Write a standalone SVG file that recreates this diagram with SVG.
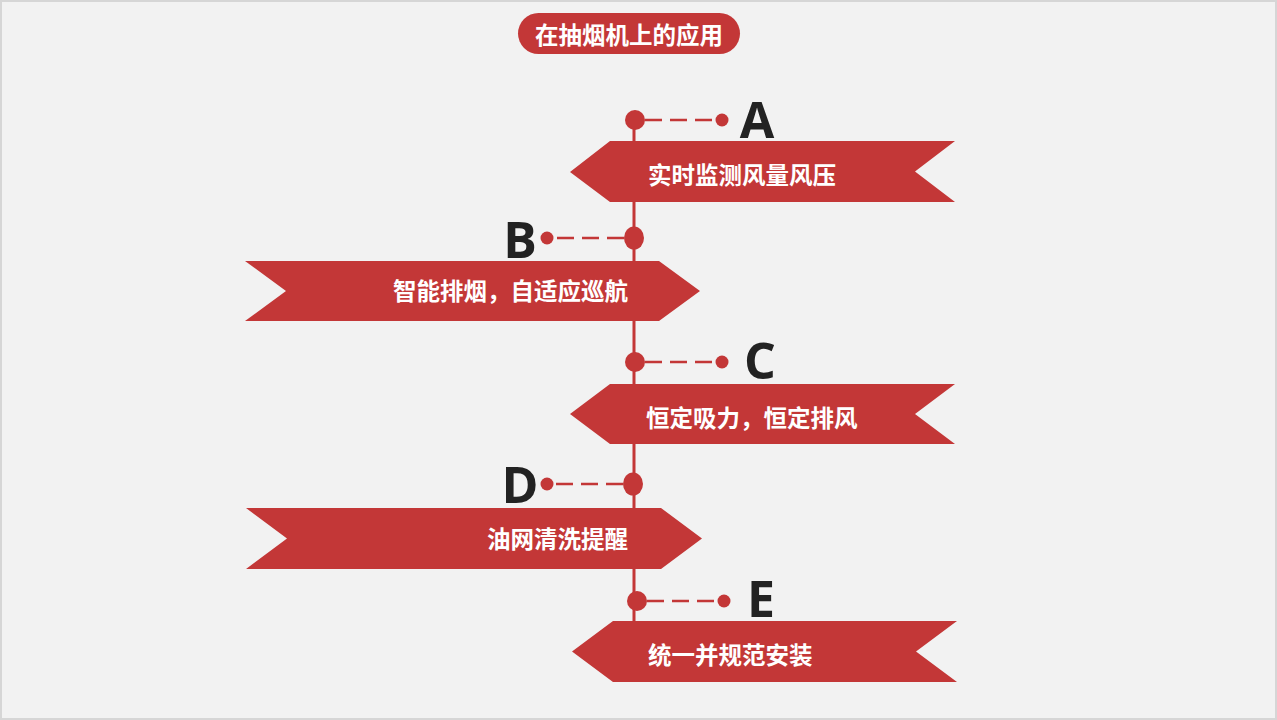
<svg xmlns="http://www.w3.org/2000/svg" width="1277" height="720" viewBox="0 0 1277 720">
<style>
.red{fill:#c33737}
.lbl{font-family:"Noto Sans CJK SC","Noto Sans CJK JP",sans-serif;font-weight:bold;font-size:23.5px;fill:#ffffff;dominant-baseline:central}
.let{font-family:"Open Sans","Liberation Sans",sans-serif;font-weight:bold;font-size:50px;fill:#222222;text-anchor:middle}
.dash{stroke:#c33737;stroke-width:2.5;stroke-dasharray:17 8;fill:none}
</style>
<rect x="0" y="0" width="1277" height="720" fill="#f2f2f2"/>
<rect x="1" y="1" width="1275" height="718" fill="none" stroke="#d6d6d6" stroke-width="2"/>
<g id="title">
<rect x="518" y="13" width="222" height="41" rx="20.5" class="red"/>
<text x="629" y="33.5" class="lbl" text-anchor="middle">在抽烟机上的应用</text>
</g>
<g id="connectors">
<line x1="634" y1="120" x2="634" y2="621" stroke="#c33737" stroke-width="3"/>
<line x1="645" y1="120" x2="716" y2="120" class="dash"/>
<line x1="624" y1="238" x2="553" y2="238" class="dash"/>
<line x1="645" y1="362" x2="716" y2="362" class="dash"/>
<line x1="623" y1="484" x2="553" y2="484" class="dash"/>
<line x1="647" y1="601" x2="718" y2="601" class="dash"/>
</g>
<g id="nodeA">
<circle cx="635" cy="120" r="10" class="red"/>
<circle cx="722" cy="120" r="6.5" class="red"/>
<text x="757" y="138" class="let">A</text>
<polygon points="570,172 610,141 955,141 915,171.5 955,202 610,202" class="red"/>
<text x="648" y="174" class="lbl">实时监测风量风压</text>
</g>
<g id="nodeB">
<ellipse cx="634" cy="238" rx="10" ry="11.5" class="red"/>
<circle cx="547" cy="238" r="6.5" class="red"/>
<text x="520" y="258" class="let">B</text>
<polygon points="245,261 659,261 700,291 659,321 245,321 286,291" class="red"/>
<text x="628" y="290" class="lbl" text-anchor="end">智能排烟，自适应巡航</text>
</g>
<g id="nodeC">
<circle cx="635" cy="362" r="10" class="red"/>
<circle cx="722" cy="362" r="6.5" class="red"/>
<text x="760" y="379" class="let">C</text>
<polygon points="570,414 610,384 955,384 915,414 955,444 610,444" class="red"/>
<text x="646" y="417" class="lbl">恒定吸力，恒定排风</text>
</g>
<g id="nodeD">
<ellipse cx="633" cy="484" rx="10" ry="11.5" class="red"/>
<circle cx="547" cy="484" r="6.5" class="red"/>
<text x="520" y="503" class="let">D</text>
<polygon points="246,508 661,508 702,538.5 661,569 246,569 287,538.5" class="red"/>
<text x="628" y="538" class="lbl" text-anchor="end">油网清洗提醒</text>
</g>
<g id="nodeE">
<circle cx="637" cy="601" r="10" class="red"/>
<circle cx="724" cy="601" r="6.5" class="red"/>
<text x="761" y="617" class="let">E</text>
<polygon points="572,651.5 613,621 957,621 916,651.5 957,682 613,682" class="red"/>
<text x="648" y="654" class="lbl">统一并规范安装</text>
</g>
</svg>
